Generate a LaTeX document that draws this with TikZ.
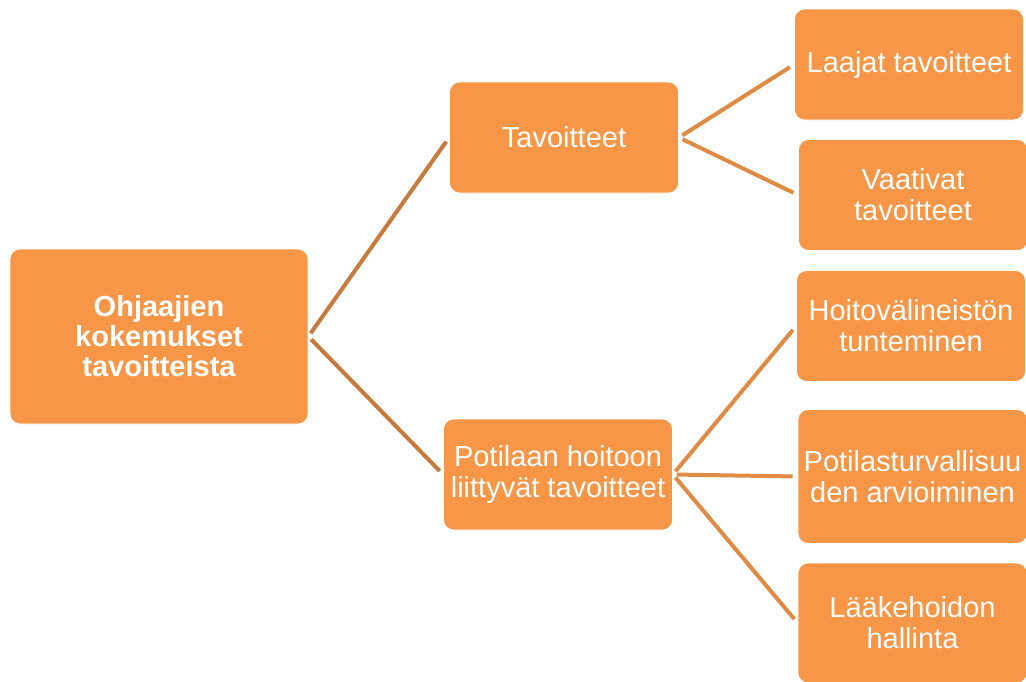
\documentclass[tikz,border=0pt]{standalone}
\usepackage{fontspec}
\setmainfont{Liberation Sans}
\definecolor{boxorange}{HTML}{F79646}
\definecolor{linkdark}{HTML}{C67A3B}
\definecolor{linkorange}{HTML}{E08B43}

\begin{document}
\begin{tikzpicture}[x=1pt, y=-1pt,
  every box/.style={fill=boxorange, draw=white, line width=0.8pt, rounded corners=10pt,
    text=white, align=center, inner sep=0pt, font=\fontsize{29}{31}\selectfont,
    minimum width=229pt, minimum height=111pt},
  box root/.style={minimum width=298pt, minimum height=175pt, font=\bfseries\fontsize{29}{30}\selectfont},
  box pts/.style={minimum height=134pt},
  box laak/.style={minimum height=120pt},
  link/.style={line width=4pt, shorten <=4pt, shorten >=5pt}]

\useasboundingbox (0,0) rectangle (1026,681);

\node [every box/.try, box root/.try] (root) at (159,336.5) {Ohjaajien\\kokemukset\\tavoitteista};

\node [every box/.try] (tav) at (564,137.5) {Tavoitteet};
\node [every box/.try] (pot) at (558,474.5) {Potilaan hoitoon\\liittyvät tavoitteet};

\foreach \m/\x/\y/\l in {laajat/909/64.5/{Laajat tavoitteet},
                         vaativat/913/195/{Vaativat\\tavoitteet},
                         hoi/911/326/{Hoitovälineistön\\tunteminen},
                         pts/912.5/476.5/{Potilasturvallisuu\\den arvioiminen},
                         laak/912.5/623/{Lääkehoidon\\hallinta}}
  \node [every box/.try, box \m/.try] (\m) at (\x,\y) {\l};

\foreach \j in {tav,pot}
  \draw [link, linkdark] (root.east) -- (\j.west);

\foreach \j in {laajat,vaativat}
  \draw [link, linkorange] (tav.east) -- (\j.west);

\foreach \j in {hoi,pts,laak}
  \draw [link, linkorange] (pot.east) -- (\j.west);

\end{tikzpicture}
\end{document}
